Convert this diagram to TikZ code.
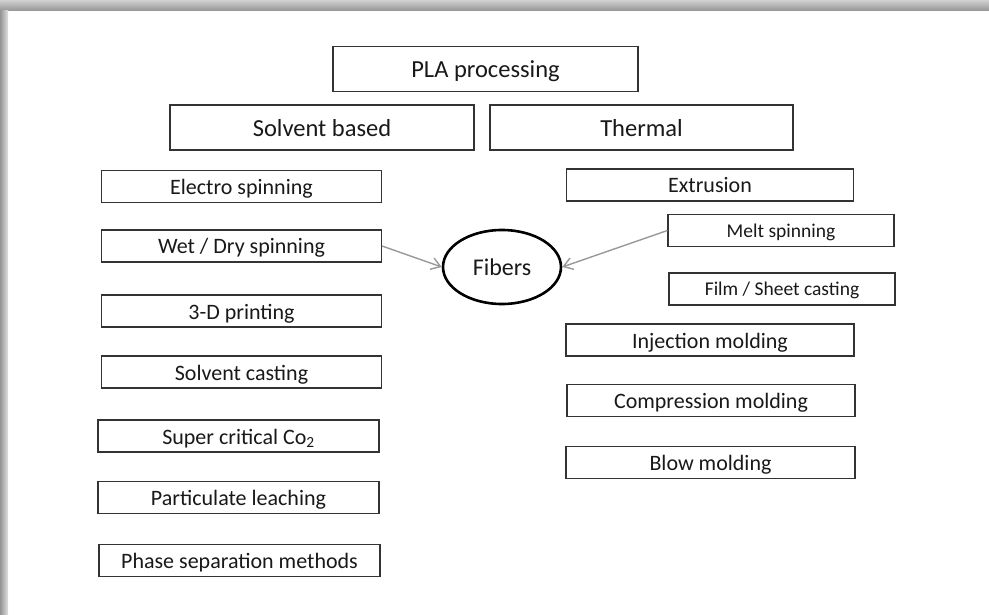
\documentclass[tikz,border=0pt]{standalone}
\usepackage{fontspec}
\setmainfont{Carlito}
\usetikzlibrary{arrows.meta,shapes.geometric}

\begin{document}
\begin{tikzpicture}[x=1pt, y=-1pt,
		>={Straight Barb[length=9pt,width=12pt]},
		box/.style={draw=black!80, line width=1.1pt, minimum height=32pt, inner sep=0pt, text=black!90,
			text height=16pt, text depth=0pt, font=\fontsize{22}{24}\selectfont},
		topbox/.style={box, minimum height=45pt, text height=17.4pt, font=\fontsize{24.5}{28}\selectfont},
		subbox/.style={box, minimum width=226pt, text height=13pt, font=\fontsize{19.5}{22}\selectfont},
		link/.style={->, draw=black!40, line width=1.4pt}]
	
	% 0. Khung và bóng mờ
	\useasboundingbox (0,0) rectangle (989,615);
	\fill[white] (0,0) rectangle (989,615);
	\shade[top color=black!18, bottom color=black!42] (0,0) rectangle (989,11);
	\shade[left color=black!42, right color=black!12] (0,11) rectangle (8,615);
	
	% 1. Hai cấp trên cùng
	\node[topbox, minimum width=305pt] (pla) at (485.5,69) {PLA processing};
	\node[topbox, minimum width=304pt] (solvent) at (322,127.5) {Solvent based};
	\node[topbox, minimum width=303pt] (thermal) at (641.5,127.5) {Thermal};
	
	% 2. Các phương pháp dùng dung môi
	\node[box, minimum width=280pt] (electro) at (241.5,186.5) {Electro spinning};
	\node[box, minimum width=280pt] (wetdry) at (241.5,246) {Wet / Dry spinning};
	\node[box, minimum width=280pt] (printing) at (241.5,311) {3-D printing};
	\node[box, minimum width=280pt] (casting) at (241.5,372) {Solvent casting};
	\node[box, minimum width=281pt] (supercrit) at (238.5,436) {Super critical Co\textsubscript{2}};
	\node[box, minimum width=281pt] (leaching) at (238.5,497.5) {Particulate leaching};
	\node[box, minimum width=281pt] (phase) at (239.5,560.5) {Phase separation methods};
	
	% 3. Các phương pháp nhiệt
	\node[box, minimum width=287pt] (extrusion) at (710,185) {Extrusion};
	\node[subbox] (melt) at (781,230.5) {Melt spinning};
	\node[subbox] (film) at (782,289) {Film / Sheet casting};
	\node[box, minimum width=288pt] (injection) at (710,340) {Injection molding};
	\node[box, minimum width=288pt] (compression) at (711,400.5) {Compression molding};
	\node[box, minimum width=289pt] (blow) at (710.5,462.5) {Blow molding};
	
	% 4. Sợi (Fibers)
	\node[ellipse, draw=black, line width=2.6pt, minimum width=118pt, minimum height=74pt, inner sep=0pt,
		text height=16pt, text depth=0pt, font=\fontsize{24}{28}\selectfont, text=black!90] (fibers) at (502,267) {Fibers};
	\draw[link] (wetdry.east) -- (fibers.west);
	\draw[link] (melt.west) -- (fibers.east);
	
\end{tikzpicture}
\end{document}
